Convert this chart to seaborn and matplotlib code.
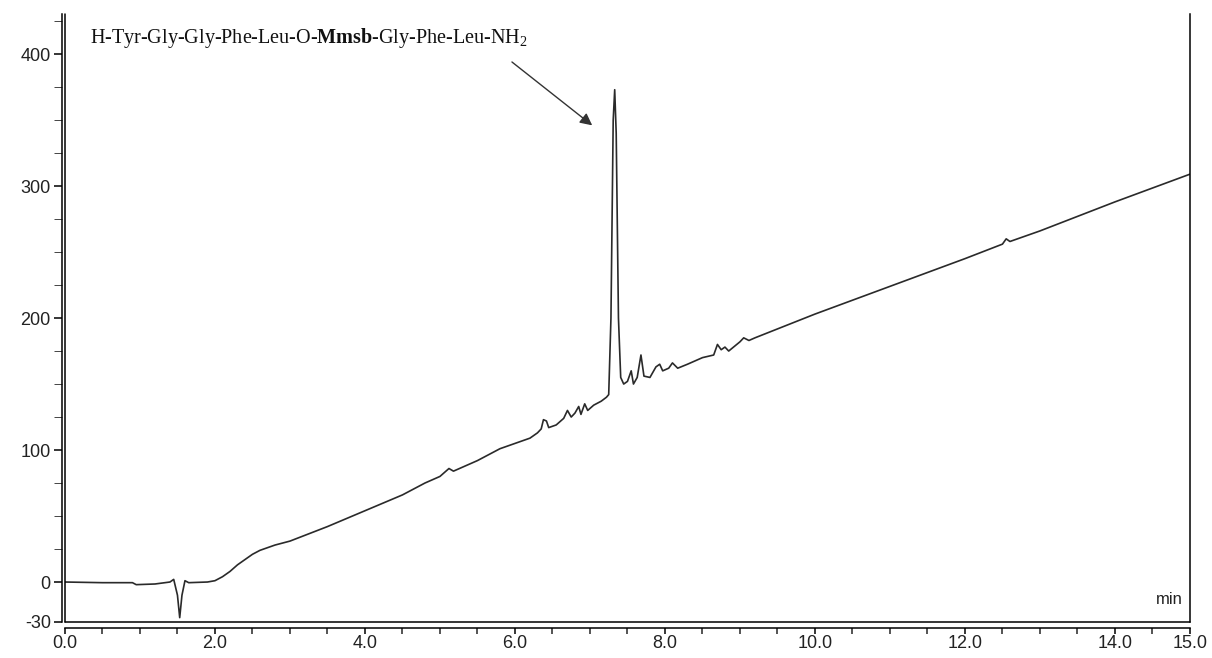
import matplotlib
matplotlib.use("Agg")
import matplotlib.pyplot as plt
import seaborn as sns
import pandas as pd

sns.set_style("ticks")
plt.rcParams['font.family'] = ['Liberation Sans', 'DejaVu Sans']
plt.rcParams['axes.unicode_minus'] = False
plt.rcParams['mathtext.fontset'] = 'custom'
plt.rcParams['mathtext.rm'] = 'Liberation Serif'
plt.rcParams['mathtext.bf'] = 'Liberation Serif:bold'

# chromatogram trace (time in min, signal)
time = [0.0, 0.5, 0.9, 0.95, 1.2, 1.4, 1.45, 1.5, 1.53, 1.56, 1.6, 1.65, 1.9,
        2.0, 2.1, 2.2, 2.3, 2.4, 2.5, 2.6, 2.7, 2.8, 3.0, 3.5, 4.0, 4.5, 4.8,
        5.0, 5.08, 5.12, 5.18, 5.5, 5.8, 6.0, 6.2, 6.3, 6.35, 6.38, 6.42, 6.45,
        6.55, 6.65, 6.7, 6.75, 6.8, 6.85, 6.88, 6.93, 6.97, 7.05, 7.15, 7.22,
        7.25, 7.28, 7.31, 7.33, 7.35, 7.38, 7.41, 7.45, 7.5, 7.55, 7.58, 7.63,
        7.68, 7.72, 7.8, 7.88, 7.93, 7.97, 8.05, 8.1, 8.17, 8.3, 8.5, 8.65,
        8.7, 8.75, 8.8, 8.85, 9.0, 9.05, 9.12, 9.2, 10.0, 11.0, 12.0, 12.5,
        12.55, 12.6, 13.0, 14.0, 15.0]
signal = [0, -0.5, -0.5, -2, -1.5, 0, 2, -10, -27, -10, 1, -0.5, 0,
          1, 4, 8, 13, 17, 21, 24, 26, 28, 31, 42, 54, 66, 75,
          80, 84, 86, 84, 92, 101, 105, 109, 113, 116, 123, 122, 117,
          119, 124, 130, 125, 128, 133, 127, 135, 130, 134, 137, 140,
          142, 200, 350, 373, 340, 200, 155, 150, 152, 160, 150, 155,
          172, 156, 155, 163, 165, 160, 162, 166, 162, 165, 170, 172,
          180, 176, 178, 175, 182, 185, 183, 185, 203, 224, 245, 256,
          260, 258, 266, 288, 309]

y_major = [-30, 0, 100, 200, 300, 400]
y_minor = [25, 50, 75, 125, 150, 175, 225, 250, 275, 325, 350, 375, 425]
x_major = [0, 2, 4, 6, 8, 10, 12, 14, 15]
x_labels = ["0.0", "2.0", "4.0", "6.0", "8.0", "10.0", "12.0", "14.0", "15.0"]
x_minor = [i * 0.5 for i in range(31)]

df = pd.DataFrame({"time": time, "signal": signal})

fig = plt.figure(figsize=(12.12, 6.58), dpi=100)
ax = fig.add_axes([0.0536, 0.0553, 0.9282, 0.9227])

sns.lineplot(data=df, x="time", y="signal", ax=ax, color="#2a2a2a",
             linewidth=1.2, estimator=None, sort=False)

ax.set_xlim(0, 15)
ax.set_ylim(-30, 430)
ax.set_xlabel("")
ax.set_ylabel("")

ax.set_yticks(y_major)
ax.set_yticks(y_minor, minor=True)
ax.set_xticks(x_major)
ax.set_xticklabels(x_labels)
ax.set_xticks(x_minor, minor=True)

ax.tick_params(axis="both", which="major", labelsize=13, color="black",
               width=1.1, direction="out", labelcolor="#222222")
ax.tick_params(axis="y", which="both", length=6)
ax.tick_params(axis="y", which="major", pad=2)
ax.tick_params(axis="x", which="both", length=4.5, width=1.1)
ax.tick_params(axis="x", which="major", pad=1)

ax.spines["top"].set_visible(False)
for side in ["left", "bottom", "right"]:
    ax.spines[side].set_color("black")
    ax.spines[side].set_linewidth(1.1)
ax.spines["left"].set_position(("outward", 2.2))
ax.spines["bottom"].set_position(("outward", 4.3))

# inner frame lines
ax.axvline(0, color="black", linewidth=1.1, clip_on=False)
ax.axhline(-30, color="black", linewidth=1.1, clip_on=False)

ax.text(14.9, -13, "min", ha="right", va="center", fontsize=12, color="#222222")

ax.text(0.33, 412, r"H-Tyr-Gly-Gly-Phe-Leu-O-$\mathbf{Mmsb}$-Gly-Phe-Leu-NH$_2$",
        fontsize=14.5, ha="left", va="center", family="Liberation Serif",
        color="#111111")
ax.annotate("", xy=(7.03, 346), xytext=(5.96, 394),
            arrowprops=dict(arrowstyle="-|>", color="#333333", lw=1.0,
                            mutation_scale=18, shrinkA=0, shrinkB=0))

plt.savefig("out.png", dpi=100)
